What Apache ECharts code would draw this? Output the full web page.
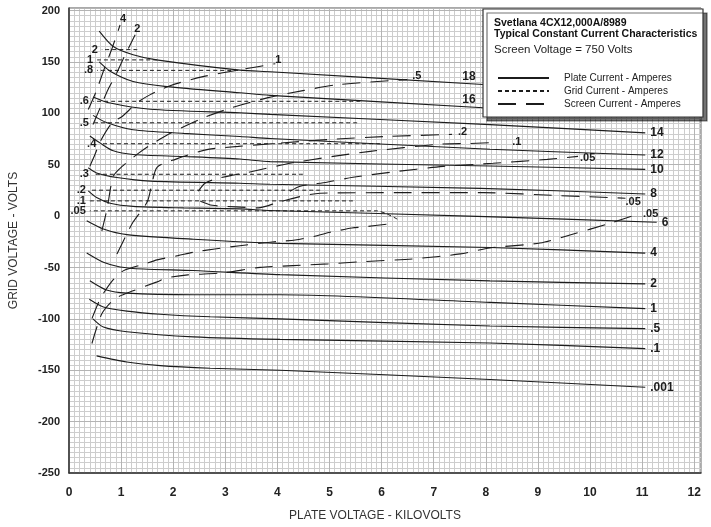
<!DOCTYPE html>
<html><head><meta charset="utf-8">
<script src="https://cdn.jsdelivr.net/npm/echarts@6/dist/echarts.min.js"></script>
<style>html,body{margin:0;padding:0;background:#fff}#c{width:711px;height:527px}</style>
</head><body><div id="c"></div>
<script>
const FONT = "'Liberation Sans Narrow','Liberation Sans',Arial,sans-serif";
const FONT_W = "'Liberation Sans',Arial,sans-serif";

// Plate current (solid) curves, [kV, V]
const plate18 = [[0.58,180],[0.85,165],[1.23,157],[1.68,152],[3.28,142],[3.86,140.5],[7.95,128]];
const plate16 = [[0.58,150],[0.79,141],[1.23,131],[1.88,126],[3.28,120],[3.86,117.5],[7.95,105.5]];
const plate14 = [[0.46,116],[0.79,110],[1.56,104],[3.28,100.5],[3.86,99],[8.08,89],[11.06,81]];
const plate12 = [[0.46,98],[0.72,91],[1.23,84],[2.2,80.5],[3.28,77.5],[3.86,75.5],[8.08,65],[11.06,59.5]];
const plate10 = [[0.4,78],[0.6,71],[0.85,63.5],[1.23,60],[2.2,58],[3.28,55.5],[3.86,53],[8.08,48.7],[11.06,45.5]];
const plate8  = [[0.37,47],[0.53,42],[0.92,37.5],[1.56,34],[3.28,32],[3.86,31],[7.9,27],[11.06,21.5]];
const plate6  = [[0.37,24.5],[0.53,18],[0.79,12.5],[1.23,9.5],[2.2,8],[3.28,7],[3.86,5.5],[8.0,-0.5],[11.28,-6]];
const plate4  = [[0.34,-4.5],[0.66,-12.5],[1.11,-18],[2.39,-22.5],[4.05,-26.5],[8.08,-30.5],[11.06,-36]];
const plate2  = [[0.34,-36],[0.66,-45],[0.98,-49.5],[1.43,-51.5],[2.39,-53],[4.05,-57],[8.08,-63],[11.06,-66]];
const plate1  = [[0.4,-63],[0.72,-72],[1.11,-75],[2.39,-76.5],[4.05,-76.5],[8.08,-84],[11.06,-90]];
const plate05 = [[0.39,-81],[0.66,-88.5],[1.11,-92.5],[1.75,-95.5],[2.71,-98],[4.05,-100],[8.08,-107],[11.06,-109.5]];
const plate01 = [[0.46,-100],[0.66,-108],[1.11,-112.5],[2.39,-117.5],[4.05,-120],[8.08,-123.5],[11.06,-129]];
const plate0001 = [[0.53,-136],[1.11,-142],[1.75,-145.5],[2.71,-148],[4.05,-150],[8.08,-159],[11.06,-166.5]];
const plateLabels = ['18','16','14','12','10','8','6','4','2','1','.5','.1','.001'];

// Grid current (short dash) curves, listed right end -> left end
const grid2   = [[1.31,162],[0.63,162]];
const grid1   = [[1.69,152],[0.54,152]];
const grid08  = [[3.38,141.8],[0.54,141.8]];
const grid06  = [[5.59,111.7],[0.46,111.7]];
const grid05  = [[5.53,90.8],[0.46,90.8]];
const grid04  = [[5.97,70.4],[0.6,70.4]];
const grid03  = [[4.49,40.7],[0.46,40.7]];
const grid02  = [[4.82,25.2],[0.4,25.2]];
const grid01  = [[5.45,14.8],[0.4,14.8]];
const grid005 = [[6.3,-2.9],[6.11,1.9],[5.91,5.1],[0.4,5.1]];
const gridLabels = ['2','1','.8','.6','.5','.4','.3','.2','.1','.05'];

// Screen current (long dash) curves
const screen4   = [[0.37,103.7],[0.52,121.1],[0.67,142.4],[0.83,163.8],[0.98,186]];
const screen2   = [[0.46,89.1],[0.6,105.6],[0.75,123.1],[0.9,137.6],[1.06,155],[1.27,176.4]];
const screen1   = [[0.4,48.4],[0.5,60.1],[0.6,72.7],[0.83,91.1],[1.02,96.9],[1.31,110.5],[1.56,118.2],[1.94,126.9],[2.57,135.7],[3.28,142.4],[3.96,148.3]];
const screen05  = [[0.63,-14.5],[0.73,6.8],[0.85,38.8],[1.02,48.4],[1.33,61],[1.52,67.8],[1.9,79.5],[2.55,95],[3.13,105.6],[3.82,115.3],[4.49,122.1],[5.15,127.9],[6.49,132.8]];
const screen02  = [[0.92,-36.8],[1.11,-17.4],[1.23,-5.8],[1.5,13.6],[1.59,31],[1.69,47.5],[2.04,55.2],[2.67,64.9],[3.25,67.8],[3.96,70.7],[5.01,74.6],[6.11,77.5],[7.35,79.5]];
const screen01  = [[2.48,24.2],[2.61,32],[2.8,35.9],[3.13,39.7],[3.44,42.6],[4.24,51.4],[5.07,58.1],[5.78,63],[7.07,69.8],[7.7,70.7],[8.22,71.7]];
const screen005a = [[4.24,24.2],[4.44,29.1],[4.95,33],[5.45,37.8],[6.16,42.6],[7.18,48.4],[8.14,51.4],[9.18,55.2],[9.77,58.1]];
const screen005b = [[2.52,14.5],[2.75,10.5],[3.2,9],[3.63,8],[4.05,14],[4.82,22.3],[6.36,22.8],[7.95,22.8],[9.43,19.9],[10.68,17.4]];
const screen005c = [[0.44,-124],[0.63,-95],[0.88,-80.4],[1.23,-72.7],[1.69,-64],[1.88,-60.1],[2.28,-57.2],[2.96,-55.2],[3.67,-49.9],[4.3,-48.2],[4.97,-46.5],[5.65,-44.3],[6.59,-41.7],[7.51,-36.8],[8.08,-31],[9.04,-26.2],[9.68,-17.4],[10.33,-7.8],[10.96,2.6]];
const screenX   = [[0.44,-99.8],[0.6,-80.4],[0.83,-63],[1.04,-53.3],[1.46,-46.5],[1.69,-42.6],[2.09,-38.5],[2.42,-34.9],[2.8,-32],[3.28,-28.8],[3.67,-26.5],[4.05,-24.5],[4.34,-23.3],[4.76,-19.1],[5.01,-15.8],[5.43,-11.6],[5.68,-10.4],[6.11,-7.8]];
const screenLabels = ['4','2','1','.5','.2','.1','.05','.05','.05',''];

const PLATE = 'Plate Current - Amperes';
const GRID = 'Grid Current - Amperes';
const SCREEN = 'Screen Current - Amperes';
const INK = '#1c1c1c';

function mk(name, data, dash, width, lbl, lblOpt) {
  return {
    type: 'line', name: name, data: data, smooth: 0.25, symbol: 'none', silent: true,
    lineStyle: { color: INK, width: width, type: dash },
    itemStyle: { color: INK },
    endLabel: lbl ? Object.assign({ show: true, formatter: lbl, distance: 5, fontFamily: FONT,
      fontWeight: 'bold', fontSize: 12, color: INK }, lblOpt || {}) : { show: false },
    emphasis: { disabled: true }, z: 3
  };
}

const series = [];
const plateData = [plate18, plate16, plate14, plate12, plate10, plate8, plate6, plate4, plate2, plate1, plate05, plate01, plate0001];
plateData.forEach((d, i) => {
  const opt = i < 2 ? { offset: [-26, -8] } : {};
  series.push(mk(PLATE, d, 'solid', 1.1, plateLabels[i], opt));
});
const gridData = [grid2, grid1, grid08, grid06, grid05, grid04, grid03, grid02, grid01, grid005];
gridData.forEach((d, i) => {
  series.push(mk(GRID, d, [4, 3], 1, gridLabels[i], { align: 'right', offset: [-9, 0], fontSize: 11 }));
});
const screenData = [screen4, screen2, screen1, screen05, screen02, screen01, screen005a, screen005b, screen005c, screenX];
const screenOffsets = [[-5,-6],[-6,-6],[-5,-4],[0,-4],[1,-2],[10,0],[-3,2],[-5,4],[-2,1],[0,0]];
screenData.forEach((d, i) => {
  series.push(mk(SCREEN, d, [18, 10], 1.1, screenLabels[i], { offset: screenOffsets[i], fontSize: 11 }));
});

const chart = echarts.init(document.getElementById('c'), null, { renderer: 'canvas' });
chart.setOption({
  animation: false,
  backgroundColor: '#fff',
  grid: { left: 69, top: 8, width: 632, height: 467, show: true, borderColor: '#555', borderWidth: 1, backgroundColor: '#fff' },
  xAxis: [{
    type: 'value', min: 0, max: 12.13, interval: 1,
    name: 'PLATE VOLTAGE - KILOVOLTS', nameLocation: 'middle', nameGap: 37,
    nameTextStyle: { fontFamily: FONT_W, fontSize: 12, color: '#333', padding: [0, 20, 0, 0] },
    axisLine: { show: true, onZero: false, lineStyle: { color: '#333', width: 1.5 } },
    axisTick: { show: false },
    axisLabel: { margin: 14, fontFamily: FONT, fontWeight: 'bold', fontSize: 12, color: '#222',
      formatter: v => (Math.abs(v - Math.round(v)) < 1e-6 ? String(Math.round(v)) : '') },
    splitLine: { show: true, lineStyle: { color: '#b4b4b4', width: 1 } }, z: 2
  }, {
    type: 'value', min: 0, max: 12.13, interval: 0.1, show: true,
    axisLine: { show: false, onZero: false }, axisTick: { show: false }, axisLabel: { show: false },
    splitLine: { show: true, lineStyle: { color: '#cdcdcd', width: 1 } }, z: 1
  }],
  yAxis: [{
    type: 'value', min: -250, max: 202.5, interval: 50,
    name: 'GRID VOLTAGE - VOLTS', nameLocation: 'middle', nameGap: 49,
    nameTextStyle: { fontFamily: FONT_W, fontSize: 12, color: '#333' },
    axisLine: { show: true, onZero: false, lineStyle: { color: '#333', width: 1.5 } },
    axisTick: { show: false },
    axisLabel: { margin: 9, fontFamily: FONT, fontWeight: 'bold', fontSize: 11, color: '#222',
      formatter: v => (Math.abs(v % 50) < 1e-6 ? String(v) : '') },
    splitLine: { show: true, lineStyle: { color: '#b4b4b4', width: 1 } }, z: 2
  }, {
    type: 'value', min: -250, max: 202.5, interval: 5, show: true,
    axisLine: { show: false, onZero: false }, axisTick: { show: false }, axisLabel: { show: false },
    splitLine: { show: true, lineStyle: { color: '#cdcdcd', width: 1 } }, z: 1
  }],
  graphic: [{
    type: 'rect', z: 100, silent: true,
    shape: { x: 483, y: 9, width: 220, height: 108 },
    style: { fill: '#fff', stroke: '#333', lineWidth: 1.2, shadowColor: 'rgba(0,0,0,0.55)', shadowOffsetX: 4, shadowOffsetY: 4, shadowBlur: 0 }
  }],
  title: {
    text: 'Svetlana 4CX12,000A/8989\nTypical Constant Current Characteristics',
    subtext: 'Screen Voltage = 750 Volts',
    left: 494, top: 18, padding: 0, itemGap: 4, z: 110,
    textStyle: { fontFamily: FONT_W, fontSize: 10.5, fontWeight: 'bold', color: '#111', lineHeight: 10.5 },
    subtextStyle: { fontFamily: FONT_W, fontSize: 11.5, color: '#222', lineHeight: 13 }
  },
  legend: {
    data: [PLATE, GRID, SCREEN], orient: 'vertical', left: 497, top: 73, padding: 0,
    itemWidth: 51, itemHeight: 10, itemGap: 3, selectedMode: false, z: 110,
    itemStyle: { opacity: 0 },
    textStyle: { fontFamily: FONT_W, fontSize: 10, color: '#222', padding: [0, 0, 0, 10] }
  },
  series: series
});
</script></body></html>
